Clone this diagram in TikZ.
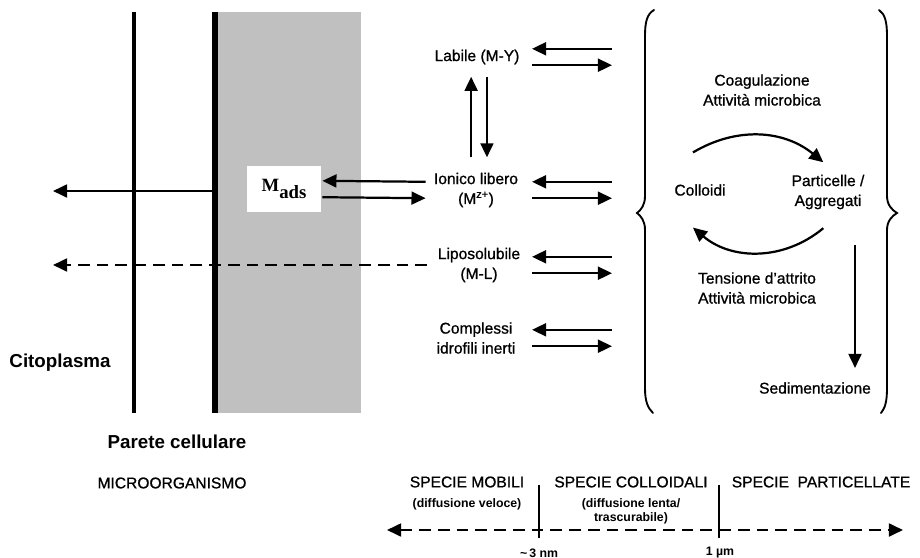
\documentclass[tikz,border=0pt]{standalone}
\usepackage{fontspec}
\setmainfont{Liberation Sans}
\newfontfamily\lblfont{Liberation Sans}[FakeBold=0.9]
\newfontfamily\madsfont{Liberation Serif}
\usetikzlibrary{arrows.meta,positioning}
\definecolor{wallgray}{RGB}{192,192,192}

\begin{document}
\begin{tikzpicture}[
    x=0.03cm, y=-0.03cm,
    lbl/.style={font=\lblfont\fontsize{13.3}{17}\selectfont, align=center, inner sep=2pt},
    big/.style={font=\fontsize{16}{19}\selectfont\bfseries, inner sep=2pt},
    small/.style={font=\fontsize{10.5}{12}\selectfont\bfseries, align=center, inner sep=1pt},
    arr/.style={-{Triangle[length=12pt,width=11pt]}, line width=1.9pt},
    darr/.style={arr, dash pattern=on 10pt off 6pt},
    tick/.style={line width=2.5pt},
    brace/.style={line width=1.6pt, line cap=round}
]
\useasboundingbox (0,0) rectangle (920,558);

% cell wall
\fill[wallgray] (215,12) rectangle (361,413);
\draw[line width=4pt] (134,12) -- (134,413);
\draw[line width=5pt] (215,12) -- (215,413);

\node[fill=white, minimum width=2.22cm, minimum height=1.38cm, inner sep=0pt,
      font=\madsfont\fontsize{16}{16}\selectfont\bfseries] (mads) at (284,189) {M\raisebox{-6pt}{ads}};

\node[big] (cyto) at (60,363) {Citoplasma};
\node[big] (wall) at (177,442) {Parete cellulare};
\node[lbl] (micro) at (172,483) {MICROORGANISMO};

% species in solution
\node[lbl] (lab) at (477,57) {Labile (M-Y)};
\node[lbl] (ion) at (476,190) {Ionico libero\\(M\textsuperscript{z+})};
\node[lbl] (lip) at (479,265) {Liposolubile\\(M-L)};
\node[lbl] (cpx) at (476,338) {Complessi\\idrofili inerti};

\coordinate (brL) at (612,0);
\coordinate (tipL) at (532,0);
\draw[arr] ([yshift=7pt]lab.center -| brL) -- ([yshift=7pt]lab.center -| tipL);
\draw[arr] ([yshift=-7pt]lab.center -| tipL) -- ([yshift=-7pt]lab.center -| brL);
\draw[arr] ([yshift=7pt]ion.center -| brL) -- ([yshift=7pt]ion.center -| tipL);
\draw[arr] ([yshift=-7pt]ion.center -| tipL) -- ([yshift=-7pt]ion.center -| brL);
\draw[arr] ([yshift=7pt]lip.center -| brL) -- ([yshift=7pt]lip.center -| tipL);
\draw[arr] ([yshift=-7pt]lip.center -| tipL) -- ([yshift=-7pt]lip.center -| brL);
\draw[arr] ([yshift=7pt]cpx.center -| brL) -- ([yshift=7pt]cpx.center -| tipL);
\draw[arr] ([yshift=-7pt]cpx.center -| tipL) -- ([yshift=-7pt]cpx.center -| brL);

\draw[arr, shorten <=11pt, shorten >=8.5pt] ([xshift=-5pt]lab.south |- ion.north) -- ([xshift=-5pt]lab.south);
\draw[arr, shorten <=8.5pt, shorten >=11pt] ([xshift=8.5pt]lab.south) -- ([xshift=8.5pt]lab.south |- ion.north);

\draw[arr, shorten >=1pt] ([shift={(-5pt,7pt)}]ion.west) -- ([yshift=7pt]mads.east);
\draw[arr, shorten <=1pt] ([yshift=-7pt]mads.east) -- ([shift={(-5pt,-7pt)}]ion.west);

\coordinate (wallR) at (213,191);
\coordinate (cytoA) at (53,191);
\coordinate (cytoB) at (53,265);
\draw[arr] (wallR) -- (cytoA);
\draw[darr] ([xshift=-7pt]lip.west) -- (cytoB);

% braces
\draw[brace] (654,10) .. controls (647,14) and (645,22) .. (645,36) -- (645,196)
    .. controls (645,205) and (641,210) .. (637,213) .. controls (641,216) and (645,221) .. (645,230)
    -- (645,388) .. controls (645,402) and (648,408) .. (653,413);
\draw[brace] (879,10) .. controls (885,14) and (887,22) .. (887,36) -- (887,196)
    .. controls (887,205) and (892,210) .. (897,213) .. controls (892,216) and (887,221) .. (887,230)
    -- (887,388) .. controls (887,402) and (885,408) .. (881,413);

% colloids and particles
\node[lbl] (coag) at (762,90) {Coagulazione\\Attività microbica};
\node[lbl] (col) at (700,190) {Colloidi};
\node[lbl] (par) at (828,192) {Particelle /\\Aggregati};
\node[lbl] (tens) at (757,288) {Tensione d’attrito\\Attività microbica};
\node[lbl] (sed) at (815,388) {Sedimentazione};

\draw[arr] ([shift={(-6pt,25pt)}]col.north) to[bend left=35] ([shift={(-4pt,8.5pt)}]par.north);
\draw[arr] ([shift={(-4pt,-14pt)}]par.south) to[bend left=40] ([shift={(-6pt,-25pt)}]col.south);

\coordinate (sedtop) at (855,245);
\draw[arr, shorten >=10pt] (sedtop) -- (sedtop |- sed.north);

% size scale
\node[lbl] (mob) at (467,482) {SPECIE MOBILI};
\node[small, below=6pt of mob] (mobsub) {(diffusione veloce)};
\node[lbl] (coll) at (631,482) {SPECIE COLLOIDALI};
\node[small, below=6pt of coll] (collsub) {(diffusione lenta/\\trascurabile)};
\node[lbl] (part) at (821,482) {SPECIE\ \ PARTICELLATE};

\draw[tick] (539,485) -- (539,538);
\draw[tick] (719,485) -- (719,538);
\node[small] (nm) at (539,553) {\textasciitilde\,3 nm};
\node[small] (um) at (720,553) {1 µm};

\coordinate (sL) at (387,530);
\coordinate (sR) at (903,530);
\draw[darr, {Triangle[length=12pt,width=11pt]}-{Triangle[length=12pt,width=11pt]}] (sL) -- (sR);
\end{tikzpicture}
\end{document}
